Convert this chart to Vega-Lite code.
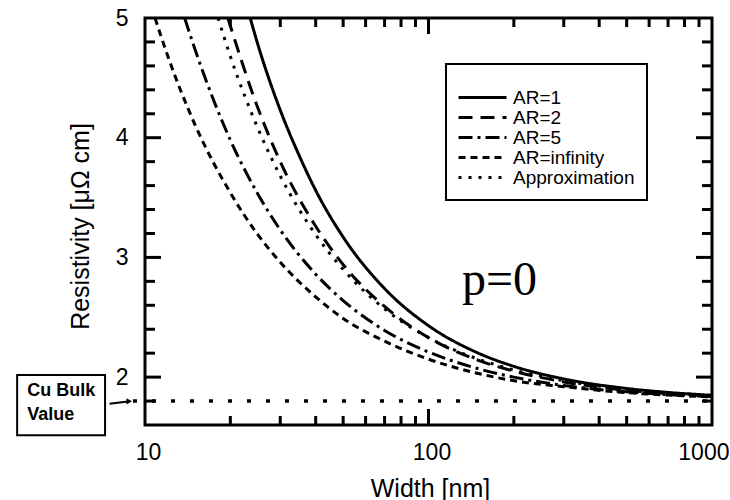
{
  "$schema": "https://vega.github.io/schema/vega-lite/v6.json",
  "autosize": {"type": "none"},
  "padding": {"left": 145, "top": 18, "right": 18, "bottom": 75},
  "width": 567,
  "height": 407,
  "background": "white",
  "config": {
    "font": "Liberation Sans",
    "view": {"stroke": "black", "strokeWidth": 3},
    "axis": {"domain": false, "grid": false, "ticks": false, "labelColor": "black", "titleColor": "black", "titleFontWeight": "normal", "labelFont": "Liberation Sans", "titleFont": "Liberation Sans"}
  },
  "datasets": {
    "curves": [
      {"series": "AR=1", "w": 23.5, "rho": 5.0},
      {"series": "AR=1", "w": 25, "rho": 4.78},
      {"series": "AR=1", "w": 30, "rho": 4.23},
      {"series": "AR=1", "w": 35, "rho": 3.85},
      {"series": "AR=1", "w": 40, "rho": 3.56},
      {"series": "AR=1", "w": 50, "rho": 3.17},
      {"series": "AR=1", "w": 70, "rho": 2.74},
      {"series": "AR=1", "w": 100, "rho": 2.43},
      {"series": "AR=1", "w": 150, "rho": 2.2},
      {"series": "AR=1", "w": 200, "rho": 2.09},
      {"series": "AR=1", "w": 300, "rho": 1.985},
      {"series": "AR=1", "w": 500, "rho": 1.905},
      {"series": "AR=1", "w": 700, "rho": 1.872},
      {"series": "AR=1", "w": 1000, "rho": 1.848},
      {"series": "AR=2", "w": 19.6, "rho": 5.0},
      {"series": "AR=2", "w": 25, "rho": 4.25},
      {"series": "AR=2", "w": 30, "rho": 3.8},
      {"series": "AR=2", "w": 40, "rho": 3.26},
      {"series": "AR=2", "w": 50, "rho": 2.94},
      {"series": "AR=2", "w": 70, "rho": 2.59},
      {"series": "AR=2", "w": 100, "rho": 2.33},
      {"series": "AR=2", "w": 150, "rho": 2.14},
      {"series": "AR=2", "w": 200, "rho": 2.05},
      {"series": "AR=2", "w": 300, "rho": 1.96},
      {"series": "AR=2", "w": 500, "rho": 1.891},
      {"series": "AR=2", "w": 700, "rho": 1.863},
      {"series": "AR=2", "w": 1000, "rho": 1.842},
      {"series": "AR=5", "w": 13.8, "rho": 5.0},
      {"series": "AR=5", "w": 15, "rho": 4.74},
      {"series": "AR=5", "w": 20, "rho": 3.98},
      {"series": "AR=5", "w": 25, "rho": 3.53},
      {"series": "AR=5", "w": 30, "rho": 3.23},
      {"series": "AR=5", "w": 40, "rho": 2.86},
      {"series": "AR=5", "w": 50, "rho": 2.64},
      {"series": "AR=5", "w": 70, "rho": 2.39},
      {"series": "AR=5", "w": 100, "rho": 2.21},
      {"series": "AR=5", "w": 150, "rho": 2.07},
      {"series": "AR=5", "w": 200, "rho": 2.0},
      {"series": "AR=5", "w": 300, "rho": 1.93},
      {"series": "AR=5", "w": 500, "rho": 1.877},
      {"series": "AR=5", "w": 700, "rho": 1.854},
      {"series": "AR=5", "w": 1000, "rho": 1.837},
      {"series": "AR=infinity", "w": 10.85, "rho": 5.0},
      {"series": "AR=infinity", "w": 12, "rho": 4.69},
      {"series": "AR=infinity", "w": 15, "rho": 4.11},
      {"series": "AR=infinity", "w": 20, "rho": 3.54},
      {"series": "AR=infinity", "w": 25, "rho": 3.19},
      {"series": "AR=infinity", "w": 30, "rho": 2.96},
      {"series": "AR=infinity", "w": 40, "rho": 2.67},
      {"series": "AR=infinity", "w": 50, "rho": 2.49},
      {"series": "AR=infinity", "w": 70, "rho": 2.3},
      {"series": "AR=infinity", "w": 100, "rho": 2.15},
      {"series": "AR=infinity", "w": 150, "rho": 2.03},
      {"series": "AR=infinity", "w": 200, "rho": 1.97},
      {"series": "AR=infinity", "w": 300, "rho": 1.92},
      {"series": "AR=infinity", "w": 500, "rho": 1.87},
      {"series": "AR=infinity", "w": 700, "rho": 1.85},
      {"series": "AR=infinity", "w": 1000, "rho": 1.835},
      {"series": "Approximation", "w": 18.1, "rho": 5.0},
      {"series": "Approximation", "w": 20, "rho": 4.68},
      {"series": "Approximation", "w": 25, "rho": 4.08},
      {"series": "Approximation", "w": 30, "rho": 3.68},
      {"series": "Approximation", "w": 40, "rho": 3.19},
      {"series": "Approximation", "w": 50, "rho": 2.9},
      {"series": "Approximation", "w": 70, "rho": 2.57},
      {"series": "Approximation", "w": 100, "rho": 2.33},
      {"series": "Approximation", "w": 150, "rho": 2.15},
      {"series": "Approximation", "w": 200, "rho": 2.06},
      {"series": "Approximation", "w": 300, "rho": 1.97},
      {"series": "Approximation", "w": 500, "rho": 1.898},
      {"series": "Approximation", "w": 700, "rho": 1.869},
      {"series": "Approximation", "w": 1000, "rho": 1.847}
    ],
    "xminor": [
      {"w": 20, "rho": 1.6376}, {"w": 30, "rho": 1.6376}, {"w": 40, "rho": 1.6376}, {"w": 50, "rho": 1.6376},
      {"w": 60, "rho": 1.6376}, {"w": 70, "rho": 1.6376}, {"w": 80, "rho": 1.6376}, {"w": 90, "rho": 1.6376},
      {"w": 200, "rho": 1.6376}, {"w": 300, "rho": 1.6376}, {"w": 400, "rho": 1.6376}, {"w": 500, "rho": 1.6376},
      {"w": 600, "rho": 1.6376}, {"w": 700, "rho": 1.6376}, {"w": 800, "rho": 1.6376}, {"w": 900, "rho": 1.6376},
      {"w": 20, "rho": 4.9624}, {"w": 30, "rho": 4.9624}, {"w": 40, "rho": 4.9624}, {"w": 50, "rho": 4.9624},
      {"w": 60, "rho": 4.9624}, {"w": 70, "rho": 4.9624}, {"w": 80, "rho": 4.9624}, {"w": 90, "rho": 4.9624},
      {"w": 200, "rho": 4.9624}, {"w": 300, "rho": 4.9624}, {"w": 400, "rho": 4.9624}, {"w": 500, "rho": 4.9624},
      {"w": 600, "rho": 4.9624}, {"w": 700, "rho": 4.9624}, {"w": 800, "rho": 4.9624}, {"w": 900, "rho": 4.9624}
    ],
    "xmajor": [
      {"w": 100, "rho": 1.6668},
      {"w": 100, "rho": 4.9332}
    ],
    "yminor": [
      {"w": 10.41, "rho": 1.8}, {"w": 10.41, "rho": 2.2}, {"w": 10.41, "rho": 2.4}, {"w": 10.41, "rho": 2.6},
      {"w": 10.41, "rho": 2.8}, {"w": 10.41, "rho": 3.2}, {"w": 10.41, "rho": 3.4}, {"w": 10.41, "rho": 3.6},
      {"w": 10.41, "rho": 3.8}, {"w": 10.41, "rho": 4.2}, {"w": 10.41, "rho": 4.4}, {"w": 10.41, "rho": 4.6},
      {"w": 10.41, "rho": 4.8},
      {"w": 960.2, "rho": 1.8}, {"w": 960.2, "rho": 2.2}, {"w": 960.2, "rho": 2.4}, {"w": 960.2, "rho": 2.6},
      {"w": 960.2, "rho": 2.8}, {"w": 960.2, "rho": 3.2}, {"w": 960.2, "rho": 3.4}, {"w": 960.2, "rho": 3.6},
      {"w": 960.2, "rho": 3.8}, {"w": 960.2, "rho": 4.2}, {"w": 960.2, "rho": 4.4}, {"w": 960.2, "rho": 4.6},
      {"w": 960.2, "rho": 4.8}
    ],
    "ymajor": [
      {"w": 10.67, "rho": 2}, {"w": 10.67, "rho": 3}, {"w": 10.67, "rho": 4},
      {"w": 937.1, "rho": 2}, {"w": 937.1, "rho": 3}, {"w": 937.1, "rho": 4}
    ],
    "bulk": [
      {"w": 9.07, "rho": 1.8},
      {"w": 1000, "rho": 1.8}
    ],
    "pnote": [
      {"label": "p=0", "w": 131.2, "rho": 2.685}
    ],
    "boxtext": [
      {"label": "Cu Bulk", "w": 3.84, "rho": 1.883},
      {"label": "Value", "w": 3.84, "rho": 1.683}
    ],
    "box": [
      {"w": 3.54, "w2": 7.23, "rho": 2.017, "rho2": 1.515}
    ],
    "arrow": [
      {"w": 7.5, "w2": 8.7, "rho": 1.777, "rho2": 1.797}
    ],
    "arrowhead": [
      {"w": 8.8, "rho": 1.798}
    ]
  },
  "layer": [
    {
      "data": {"name": "curves"},
      "mark": {"type": "line", "stroke": "black", "strokeWidth": 3, "interpolate": "monotone", "strokeCap": "butt"},
      "encoding": {
        "x": {
          "field": "w", "type": "quantitative",
          "scale": {"type": "log", "domain": [10, 1000], "nice": false},
          "axis": {
            "orient": "bottom",
            "values": [10, 100, 1000],
            "format": "d",
            "labelAlign": {"condition": {"test": "datum.value == 1000", "value": "right"}, "value": "center"},
            "labelOffset": {"condition": {"test": "datum.value == 1000", "value": 17}, "value": 3},
            "labelFlush": false,
            "labelOverlap": false,
            "labelPadding": 16,
            "labelFontSize": 23,
            "title": "Width [nm]",
            "titleFontSize": 25,
            "titleX": 285,
            "titleY": 63,
            "titleBaseline": "middle"
          }
        },
        "y": {
          "field": "rho", "type": "quantitative",
          "scale": {"domain": [1.6, 5], "nice": false, "zero": false},
          "axis": {
            "orient": "left",
            "values": [2, 3, 4, 5],
            "format": "d",
            "labelPadding": 17,
            "labelFontSize": 23,
            "labelOverlap": false,
            "title": "Resistivity [μΩ cm]",
            "titleFontSize": 25,
            "titleAngle": 270,
            "titleX": -65,
            "titleY": 208,
            "titleAlign": "center",
            "titleBaseline": "middle"
          }
        },
        "strokeDash": {
          "field": "series", "type": "nominal",
          "scale": {
            "domain": ["AR=1", "AR=2", "AR=5", "AR=infinity", "Approximation"],
            "range": [[1, 0], [14, 8], [14, 5, 3, 5], [7, 5], [3, 7]]
          },
          "legend": {
            "orient": "none",
            "legendX": 301,
            "legendY": 46,
            "title": " ",
            "titleFontSize": 8,
            "titlePadding": 4,
            "padding": 12,
            "strokeColor": "black",
            "fillColor": "white",
            "symbolType": "M-1.8,0H7.8",
            "symbolSize": 100,
            "symbolStrokeWidth": 3,
            "symbolStrokeColor": "black",
            "labelFontSize": 19,
            "labelColor": "black",
            "labelOffset": 36,
            "labelLimit": 0,
            "rowPadding": 0,
            "encode": {"legend": {"update": {"strokeWidth": {"value": 2}}}}
          }
        }
      }
    },
    {
      "data": {"name": "xminor"},
      "mark": {"type": "tick", "orient": "vertical", "size": 9, "thickness": 3, "color": "#000000", "opacity": 1},
      "encoding": {
        "x": {"field": "w", "type": "quantitative", "scale": {"type": "log", "domain": [10, 1000], "nice": false}},
        "y": {"field": "rho", "type": "quantitative", "scale": {"domain": [1.6, 5], "nice": false, "zero": false}}
      }
    },
    {
      "data": {"name": "xmajor"},
      "mark": {"type": "tick", "orient": "vertical", "size": 16, "thickness": 3, "color": "#000000", "opacity": 1},
      "encoding": {
        "x": {"field": "w", "type": "quantitative", "scale": {"type": "log", "domain": [10, 1000], "nice": false}},
        "y": {"field": "rho", "type": "quantitative", "scale": {"domain": [1.6, 5], "nice": false, "zero": false}}
      }
    },
    {
      "data": {"name": "yminor"},
      "mark": {"type": "tick", "orient": "horizontal", "size": 10, "thickness": 3, "color": "#000000", "opacity": 1},
      "encoding": {
        "x": {"field": "w", "type": "quantitative", "scale": {"type": "log", "domain": [10, 1000], "nice": false}},
        "y": {"field": "rho", "type": "quantitative", "scale": {"domain": [1.6, 5], "nice": false, "zero": false}}
      }
    },
    {
      "data": {"name": "ymajor"},
      "mark": {"type": "tick", "orient": "horizontal", "size": 16, "thickness": 3, "color": "#000000", "opacity": 1},
      "encoding": {
        "x": {"field": "w", "type": "quantitative", "scale": {"type": "log", "domain": [10, 1000], "nice": false}},
        "y": {"field": "rho", "type": "quantitative", "scale": {"domain": [1.6, 5], "nice": false, "zero": false}}
      }
    },
    {
      "data": {"name": "bulk"},
      "mark": {"type": "line", "stroke": "black", "strokeWidth": 3.5, "strokeDash": [4, 15], "strokeCap": "butt"},
      "encoding": {
        "x": {"field": "w", "type": "quantitative", "scale": {"type": "log", "domain": [10, 1000], "nice": false}},
        "y": {"field": "rho", "type": "quantitative", "scale": {"domain": [1.6, 5], "nice": false, "zero": false}}
      }
    },
    {
      "data": {"name": "pnote"},
      "mark": {"type": "text", "font": "Liberation Serif", "fontSize": 48, "align": "left", "baseline": "alphabetic", "color": "black"},
      "encoding": {
        "x": {"field": "w", "type": "quantitative", "scale": {"type": "log", "domain": [10, 1000], "nice": false}},
        "y": {"field": "rho", "type": "quantitative", "scale": {"domain": [1.6, 5], "nice": false, "zero": false}},
        "text": {"field": "label"}
      }
    },
    {
      "data": {"name": "boxtext"},
      "mark": {"type": "text", "fontSize": 18, "fontWeight": "bold", "align": "left", "baseline": "middle", "color": "black"},
      "encoding": {
        "x": {"field": "w", "type": "quantitative", "scale": {"type": "log", "domain": [10, 1000], "nice": false}},
        "y": {"field": "rho", "type": "quantitative", "scale": {"domain": [1.6, 5], "nice": false, "zero": false}},
        "text": {"field": "label"}
      }
    },
    {
      "data": {"name": "box"},
      "mark": {"type": "rect", "fill": null, "fillOpacity": 0, "stroke": "black", "strokeWidth": 2},
      "encoding": {
        "x": {"field": "w", "type": "quantitative", "scale": {"type": "log", "domain": [10, 1000], "nice": false}},
        "x2": {"field": "w2"},
        "y": {"field": "rho", "type": "quantitative", "scale": {"domain": [1.6, 5], "nice": false, "zero": false}},
        "y2": {"field": "rho2"}
      }
    },
    {
      "data": {"name": "arrow"},
      "mark": {"type": "rule", "stroke": "black", "strokeWidth": 2},
      "encoding": {
        "x": {"field": "w", "type": "quantitative", "scale": {"type": "log", "domain": [10, 1000], "nice": false}},
        "x2": {"field": "w2"},
        "y": {"field": "rho", "type": "quantitative", "scale": {"domain": [1.6, 5], "nice": false, "zero": false}},
        "y2": {"field": "rho2"}
      }
    },
    {
      "data": {"name": "arrowhead"},
      "mark": {"type": "point", "shape": "triangle-right", "filled": true, "color": "black", "size": 40, "opacity": 1},
      "encoding": {
        "x": {"field": "w", "type": "quantitative", "scale": {"type": "log", "domain": [10, 1000], "nice": false}},
        "y": {"field": "rho", "type": "quantitative", "scale": {"domain": [1.6, 5], "nice": false, "zero": false}}
      }
    }
  ]
}
